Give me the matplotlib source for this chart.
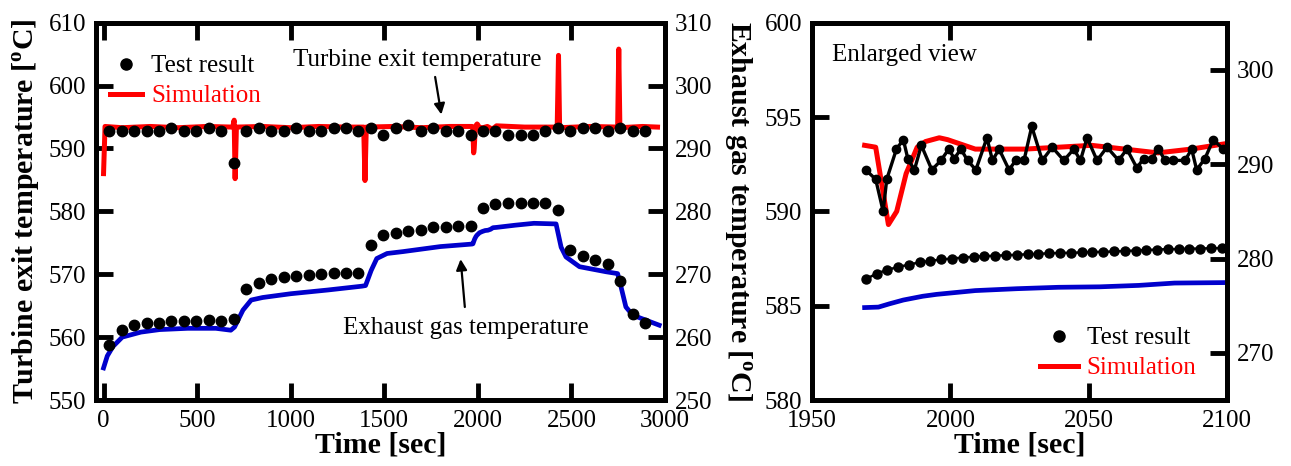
import matplotlib
matplotlib.use('Agg')
import matplotlib.pyplot as plt
from matplotlib.lines import Line2D

plt.rcParams['font.family'] = ['Liberation Serif', 'DejaVu Serif']
plt.rcParams['mathtext.fontset'] = 'custom'
plt.rcParams['mathtext.rm'] = 'Liberation Serif'
plt.rcParams['mathtext.bf'] = 'Liberation Serif:bold'

# ---- test result, turbine exit temperature (left axis) ----
test_t = [30, 97, 163, 230, 296, 363, 430, 496, 563, 629, 696, 763, 829, 896,
          962, 1029, 1096, 1162, 1229, 1295, 1362, 1429, 1495, 1562, 1628, 1695,
          1762, 1828, 1895, 1961, 2028, 2094, 2161, 2228, 2294, 2361, 2427, 2494,
          2560, 2627, 2694, 2760, 2827, 2894]
test_turb = [592.7, 592.7, 592.7, 592.7, 592.7, 593.2, 592.7, 592.7, 593.2, 592.7,
             587.7, 592.7, 593.2, 592.7, 592.7, 593.2, 592.7, 592.7, 593.2, 593.2,
             592.7, 593.2, 592.2, 593.2, 593.7, 592.7, 593.2, 592.7, 592.7, 592.2,
             592.7, 592.7, 592.2, 592.2, 592.2, 592.7, 593.2, 592.7, 593.2, 593.2,
             592.7, 593.2, 592.7, 592.7]
# ---- test result, exhaust gas temperature (right axis) ----
test_exh = [258.7, 261.2, 261.9, 262.3, 262.3, 262.5, 262.6, 262.6, 262.7, 262.6,
            262.9, 267.7, 268.6, 269.2, 269.5, 269.7, 269.9, 270.1, 270.2, 270.2,
            270.2, 274.6, 276.3, 276.6, 276.9, 277.1, 277.5, 277.5, 277.6, 277.7,
            280.5, 281.1, 281.3, 281.3, 281.4, 281.4, 280.2, 273.8, 272.9, 272.2,
            271.7, 269.0, 263.7, 262.2]

# ---- simulation, turbine exit temperature ----
sim_t = [0, 8, 100, 250, 400, 550, 690, 698, 703, 710, 850, 1000, 1150, 1300,
         1390, 1397, 1404, 1550, 1700, 1850, 1969, 1973, 1977.6, 1980.6, 1984,
         1988, 1991, 1996, 1999, 2003, 2009, 2027, 2051, 2063, 2075, 2087, 2100,
         2250, 2424, 2431, 2437, 2600, 2747, 2753, 2759, 2880, 2960]
sim_turb = [586.0, 593.5, 593.3, 593.5, 593.3, 593.5, 593.4, 594.5, 585.2, 593.4,
            593.5, 593.3, 593.5, 593.4, 593.4, 584.9, 593.4, 593.5, 593.3, 593.5,
            593.5, 593.4, 589.3, 590.0, 592.0, 593.4, 593.7, 593.9, 593.8, 593.6,
            593.3, 593.3, 593.5, 593.3, 593.1, 593.3, 593.6, 593.4, 593.4, 604.8,
            593.3, 593.5, 593.4, 605.8, 593.3, 593.5, 593.4]

# ---- simulation, exhaust gas temperature ----
sim_exh_t = [0, 20, 50, 100, 200, 300, 450, 600, 680, 700, 745, 789, 850, 1000,
             1200, 1380, 1400, 1430, 1460, 1515, 1600, 1800, 1969, 1974, 1978,
             1983, 1990, 1995, 2009, 2024, 2039, 2054, 2068, 2081, 2100, 2200,
             2300, 2418, 2445, 2471, 2543, 2684, 2747, 2765, 2791, 2827, 2898, 2969]
sim_exh = [255.1, 257.0, 258.5, 260.0, 260.8, 261.2, 261.4, 261.4, 261.1, 261.6,
           264.3, 265.9, 266.3, 266.9, 267.5, 268.1, 268.2, 270.6, 272.5, 273.3,
           273.6, 274.4, 274.8, 274.85, 275.2, 275.6, 276.0, 276.2, 276.6, 276.8,
           276.95, 277.0, 277.15, 277.4, 277.45, 277.8, 278.1, 278.0, 274.3, 272.75,
           271.2, 270.4, 270.1, 268.0, 264.8, 263.5, 262.7, 261.9]

# ---- enlarged view test results ----
zoom_t = [1969.4, 1973.0, 1975.7, 1977.0, 1980.5, 1983.0, 1984.6, 1987.0, 1989.5,
          1993.3, 1996.6, 1999.4, 2001.4, 2003.8, 2006.2, 2009.2, 2013.2, 2015.2,
          2017.6, 2021.2, 2023.6, 2026.6, 2029.4, 2033.2, 2036.8, 2041.0, 2044.6,
          2047.0, 2049.4, 2053.0, 2056.6, 2060.8, 2063.8, 2067.4, 2069.8, 2072.8,
          2075.2, 2077.6, 2080.6, 2084.8, 2087.2, 2089.0, 2092.0, 2095.0, 2098.6]
zoom_turb = [592.2, 591.7, 590.0, 591.7, 593.3, 593.8, 592.8, 592.2, 593.5, 592.2,
             592.7, 593.3, 592.8, 593.3, 592.7, 592.2, 593.9, 592.7, 593.3, 592.2,
             592.7, 592.7, 594.5, 592.7, 593.4, 592.7, 593.3, 592.7, 593.9, 592.7,
             593.4, 592.7, 593.3, 592.3, 592.8, 592.8, 593.3, 592.7, 592.7, 592.7,
             593.3, 592.2, 592.8, 593.8, 593.3]
zoom_exh_t = [1969.4, 1973.3, 1977.2, 1981.1, 1985.0, 1988.9, 1992.8, 1996.7, 2000.6,
              2004.5, 2008.4, 2012.3, 2016.2, 2020.1, 2024.0, 2027.9, 2031.8, 2035.7,
              2039.6, 2043.5, 2047.4, 2051.3, 2055.2, 2059.1, 2063.0, 2066.9, 2070.8,
              2074.7, 2078.6, 2082.5, 2086.4, 2090.3, 2094.2, 2098.1]
zoom_exh = [277.8, 278.4, 278.8, 279.1, 279.35, 279.6, 279.75, 279.9, 280.0, 280.1,
            280.2, 280.25, 280.3, 280.35, 280.4, 280.45, 280.5, 280.55, 280.6, 280.6,
            280.65, 280.7, 280.7, 280.75, 280.8, 280.85, 280.9, 280.95, 281.0, 281.0,
            281.05, 281.05, 281.1, 281.1]

zoom_start = 1969  # enlarged view shows the run from here on

deg_label = r'[$^{\mathbf{o}}$C]'
tick_kw = dict(direction='in', length=12, width=3.5, labelsize=18, pad=7)

fig = plt.figure(figsize=(12.91, 4.66), dpi=100)

# ================= left panel =================
ax = fig.add_axes([0.0744, 0.1416, 0.4407, 0.8097])
ax2 = ax.twinx()
ax.plot(sim_t, sim_turb, color='red', lw=3.6, zorder=2)
ax.plot(test_t, test_turb, 'o', color='black', ms=7.5, zorder=3)
ax2.plot(sim_exh_t, sim_exh, color='#0000cc', lw=3.4, zorder=2)
ax2.plot(test_t, test_exh, 'o', color='black', ms=7.5, zorder=3)

ax.set_xlim(-40, 3000)
ax.set_ylim(550, 610)
ax2.set_ylim(250, 310)
ax.set_xticks([0, 500, 1000, 1500, 2000, 2500, 3000])
ax.set_yticks([550, 560, 570, 580, 590, 600, 610])
ax2.set_yticks([250, 260, 270, 280, 290, 300, 310])
ax.tick_params(axis='x', top=True, **tick_kw)
ax.tick_params(axis='y', right=False, **tick_kw)
ax2.tick_params(axis='y', **tick_kw)
for a in (ax, ax2):
    for s in a.spines.values():
        s.set_linewidth(3.5)

ax.set_xlabel('Time [sec]', fontsize=21.5, fontweight='bold', labelpad=0)
ax.set_ylabel('Turbine exit temperature ' + deg_label, fontsize=21.5,
              fontweight='bold', labelpad=4)
ax2.set_ylabel('Exhaust gas temperature ' + deg_label, fontsize=21.5,
               fontweight='bold', rotation=270, va='bottom', labelpad=6)

ax.annotate('Turbine exit temperature', xy=(1805, 595.4), xytext=(1674, 604.0),
            fontsize=18, ha='center', va='center',
            arrowprops=dict(arrowstyle='-|>', color='black', lw=1.6,
                            mutation_scale=16, shrinkA=2, shrinkB=0,
                            relpos=(0.57, 0.0)))
ax.annotate('Exhaust gas temperature', xy=(1908, 572.4), xytext=(1935, 561.5),
            fontsize=18, ha='center', va='center',
            arrowprops=dict(arrowstyle='-|>', color='black', lw=1.6,
                            mutation_scale=16, shrinkA=5, shrinkB=0,
                            relpos=(0.5, 1.0)))

handles = [Line2D([], [], marker='o', ls='none', color='black', ms=8),
           Line2D([], [], color='red', lw=3.6)]
leg = ax.legend(handles, ['Test result', 'Simulation'], loc='upper left',
                bbox_to_anchor=(0.024, 0.915), frameon=False, fontsize=18,
                handlelength=1.3, handletextpad=0.35, labelspacing=0.3,
                borderpad=0, borderaxespad=0)
leg.get_texts()[1].set_color('red')

# ================= right panel =================
z_sim_t = [t for t in sim_t if t >= zoom_start]
z_sim_turb = [v for t, v in zip(sim_t, sim_turb) if t >= zoom_start]
z_exh_t = [t for t in sim_exh_t if t >= zoom_start]
z_exh = [v for t, v in zip(sim_exh_t, sim_exh) if t >= zoom_start]

bx = fig.add_axes([0.629, 0.1416, 0.3215, 0.8097])
bx2 = bx.twinx()
bx.plot(z_sim_t, z_sim_turb, color='red', lw=3.6, zorder=2)
bx.plot(zoom_t, zoom_turb, '-o', color='black', lw=2.4, ms=6, zorder=3)
bx2.plot(z_exh_t, z_exh, color='#0000cc', lw=3.4, zorder=2)
bx2.plot(zoom_exh_t, zoom_exh, '-o', color='black', lw=1.8, ms=6.5, zorder=3)

bx.set_xlim(1950, 2100)
bx.set_ylim(580, 600)
bx2.set_ylim(265, 305)
bx.set_xticks([1950, 2000, 2050, 2100])
bx.set_yticks([580, 585, 590, 595, 600])
bx2.set_yticks([270, 280, 290, 300])
bx.tick_params(axis='x', top=True, **tick_kw)
bx.tick_params(axis='y', right=False, **tick_kw)
bx2.tick_params(axis='y', **tick_kw)
for a in (bx, bx2):
    for s in a.spines.values():
        s.set_linewidth(3.5)

bx.set_xlabel('Time [sec]', fontsize=21.5, fontweight='bold', labelpad=0)
bx.text(0.048, 0.915, 'Enlarged view', transform=bx.transAxes, fontsize=18,
        ha='left', va='center')

leg2 = bx2.legend(handles, ['Test result', 'Simulation'], loc='lower left',
                  bbox_to_anchor=(0.55, 0.055), frameon=False, fontsize=18,
                  handlelength=1.5, handletextpad=0.35, labelspacing=0.3,
                  borderpad=0, borderaxespad=0)
leg2.get_texts()[1].set_color('red')

fig.savefig('out.png', dpi=100)
